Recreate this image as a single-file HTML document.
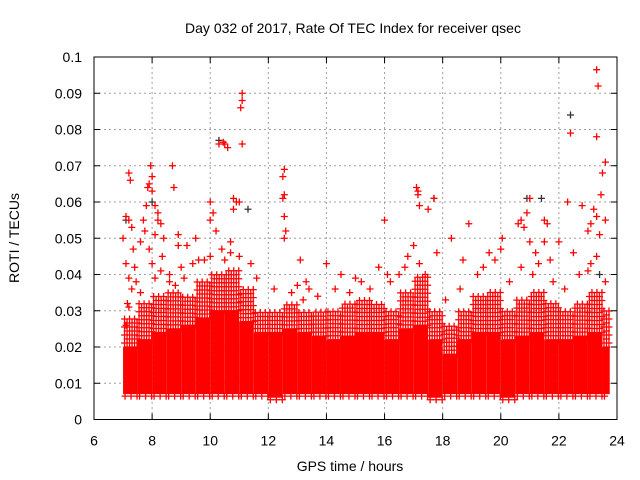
<!DOCTYPE html>
<html><head><meta charset="utf-8"><style>
body{margin:0;background:#fff}
svg{display:block;font-family:"Liberation Sans",sans-serif}
</style></head><body>
<svg id="chart" width="640" height="480" viewBox="0 0 640 480">
<text x="353" y="33" font-size="14" text-anchor="middle">Day 032 of 2017, Rate Of TEC Index for receiver qsec</text>
<text x="350" y="471" font-size="14" text-anchor="middle">GPS time / hours</text>
<text x="19" y="238" font-size="14" text-anchor="middle" transform="rotate(-90 19 238)">ROTI / TECUs</text>
<g id="grid"></g>
<g id="marks"></g>
<g id="axes"></g>
</svg>
<script>
const xTicks=[6,8,10,12,14,16,18,20,22,24];
const yTicks=[0,0.01,0.02,0.03,0.04,0.05,0.06,0.07,0.08,0.09,0.1];
const yTickLabels=["0","0.01","0.02","0.03","0.04","0.05","0.06","0.07","0.08","0.09","0.1"];
const binStart=[7.0,7.5,8.0,8.5,9.0,9.5,10.0,10.5,11.0,11.5,12.0,12.5,13.0,13.5,14.0,14.5,15.0,15.5,16.0,16.5,17.0,17.5,18.0,18.5,19.0,19.5,20.0,20.5,21.0,21.5,22.0,22.5,23.0,23.5];
const binLow=[0.007,0.007,0.007,0.007,0.007,0.007,0.007,0.007,0.007,0.007,0.006,0.007,0.007,0.007,0.007,0.007,0.007,0.007,0.007,0.007,0.007,0.006,0.007,0.007,0.007,0.007,0.006,0.007,0.007,0.007,0.007,0.007,0.007,0.007];
const binCore=[0.020,0.022,0.024,0.025,0.026,0.028,0.030,0.030,0.027,0.024,0.024,0.025,0.024,0.023,0.022,0.023,0.024,0.024,0.022,0.025,0.026,0.022,0.018,0.022,0.024,0.024,0.022,0.023,0.024,0.022,0.022,0.023,0.024,0.020];
const binHigh=[0.028,0.032,0.034,0.035,0.034,0.038,0.040,0.042,0.036,0.030,0.030,0.032,0.030,0.030,0.030,0.032,0.033,0.032,0.030,0.036,0.040,0.030,0.026,0.030,0.034,0.036,0.030,0.034,0.036,0.032,0.030,0.032,0.036,0.030];
const outX=[7.1,7.2,7.25,7.2,7.3,7.35,7.0,7.1,7.2,7.15,7.1,7.8,7.7,7.75,7.6,7.9,7.95,8.0,7.85,8.0,8.1,8.2,8.2,8.1,7.9,8.3,8.4,8.35,8.7,8.75,8.9,8.9,8.6,9.2,9.5,9.6,10.0,10.1,10.0,10.2,10.3,10.5,10.6,10.45,10.7,10.8,10.9,11.1,11.1,11.05,11.1,11.0,10.8,11.4,12.55,12.5,12.55,12.5,12.55,12.6,12.55,13.3,13.4,13.2,13.1,14.0,14.5,14.8,15.2,16.0,15.8,16.1,16.5,16.8,17.0,17.15,17.15,17.1,17.2,17.5,17.7,17.8,18.3,18.7,18.9,19.6,20.0,20.05,20.6,20.7,20.8,20.9,21.0,21.0,21.2,21.5,21.6,21.5,21.7,22.0,22.4,22.3,22.5,22.8,23.0,23.1,23.2,23.3,23.35,23.3,23.5,23.6,23.45,23.3,23.4,23.6,23.3,23.1,
7.4,7.45,7.3,7.2,7.6,8.0,8.1,8.3,8.6,8.8,9.0,9.1,9.4,9.8,10.0,10.4,10.5,10.7,11.0,11.6,12.2,12.8,13.0,13.7,14.3,15.0,15.5,16.2,16.7,17.2,17.4,18.1,18.6,19.2,19.4,19.8,20.3,20.7,21.1,21.3,21.8,22.2,22.7,23.0,23.6];
const outY=[0.056,0.068,0.066,0.055,0.053,0.047,0.050,0.043,0.039,0.032,0.026,0.059,0.055,0.052,0.049,0.065,0.070,0.067,0.064,0.063,0.059,0.057,0.055,0.051,0.047,0.054,0.050,0.045,0.070,0.064,0.051,0.048,0.038,0.048,0.050,0.044,0.060,0.057,0.055,0.052,0.076,0.076,0.075,0.0765,0.049,0.058,0.060,0.090,0.088,0.086,0.076,0.060,0.061,0.043,0.069,0.067,0.062,0.061,0.056,0.052,0.050,0.038,0.036,0.033,0.044,0.043,0.040,0.035,0.038,0.055,0.042,0.040,0.040,0.045,0.048,0.063,0.062,0.064,0.059,0.058,0.061,0.046,0.050,0.044,0.054,0.046,0.047,0.050,0.054,0.055,0.053,0.057,0.061,0.049,0.046,0.055,0.054,0.049,0.044,0.049,0.079,0.060,0.046,0.059,0.052,0.054,0.058,0.0965,0.092,0.078,0.068,0.071,0.062,0.056,0.051,0.055,0.045,0.043,
0.042,0.038,0.036,0.031,0.035,0.043,0.039,0.041,0.040,0.037,0.042,0.039,0.043,0.044,0.045,0.047,0.044,0.046,0.045,0.039,0.036,0.035,0.037,0.034,0.036,0.039,0.036,0.038,0.042,0.043,0.040,0.033,0.036,0.040,0.042,0.044,0.038,0.042,0.040,0.043,0.038,0.036,0.040,0.041,0.038];
const darkX=[7.1,8.0,10.3,11.3,17.7,21.4,22.4,20.9,23.4];
const darkY=[0.055,0.060,0.077,0.058,0.061,0.061,0.084,0.061,0.040];

const L=94,R=617,T=57,B=419.5;
const xs=v=>L+(v-6)/18*(R-L);
const ys=v=>B-v/0.1*(B-T);
const NS="http://www.w3.org/2000/svg";
function mk(tag,attrs,parent){const e=document.createElementNS(NS,tag);for(const k in attrs)e.setAttribute(k,attrs[k]);parent.appendChild(e);return e;}
const grid=document.getElementById('grid'),marks=document.getElementById('marks'),axes=document.getElementById('axes');
xTicks.forEach((t,i)=>{const x=xs(t);
 if(i>0&&i<xTicks.length-1){const g=mk('line',{x1:x,x2:x,y1:T,y2:B,stroke:'#a0a0a0','stroke-dasharray':'2,3'},grid);
 
 }
 mk('line',{x1:x,x2:x,y1:B,y2:B-6,stroke:'#000'},axes);mk('line',{x1:x,x2:x,y1:T,y2:T+6,stroke:'#000'},axes);
 const tx=mk('text',{x:x,y:B+26,'font-size':14,'text-anchor':'middle'},axes);tx.textContent=t;
 
 });
yTicks.forEach((t,i)=>{const y=ys(t);
 if(i>0&&i<yTicks.length-1){const g=mk('line',{x1:L,x2:R,y1:y,y2:y,stroke:'#a0a0a0','stroke-dasharray':'2,3'},grid);
 
 }
 mk('line',{x1:L,x2:L+6,y1:y,y2:y,stroke:'#000'},axes);mk('line',{x1:R,x2:R-6,y1:y,y2:y,stroke:'#000'},axes);
 const tx=mk('text',{x:L-12,y:y+5,'font-size':14,'text-anchor':'end'},axes);tx.textContent=yTickLabels[i];
 
 });
const frame=mk('rect',{x:L,y:T,width:R-L,height:B-T,fill:'none',stroke:'#000'},axes);


function plus(x,y,c,parent){return mk('path',{d:`M${x-3.5} ${y}h7M${x} ${y-3.5}v7`,stroke:c,'stroke-width':1.3,fill:'none'},parent);}
binStart.forEach((t,i)=>{
 const end=Math.min(t+0.5,23.75);
 const x0=xs(t),x1=xs(end);
 const r=mk('rect',{x:x0,y:ys(binCore[i]),width:x1-x0,height:ys(binLow[i])-ys(binCore[i]),fill:'#f00'},marks);
 
 
 let row=0;
 for(let yy=ys(binCore[i]);yy>ys(binHigh[i]);yy-=4,row++){
  for(let xx=x0+(row%2?1.5:4);xx<x1;xx+=5){const p=plus(xx,yy,'#f00',marks);
   
   }
 }
 for(let xx=x0+2;xx<x1;xx+=6){const p=plus(xx,ys(binLow[i])+2,'#f00',marks);
  
  }
});
darkX.forEach((v,i)=>{const p=plus(xs(v),ys(darkY[i]),'#333',marks);
 
 });
outX.forEach((v,i)=>{const p=plus(xs(v),ys(outY[i]),'#f00',marks);
 
 });
</script>
</body></html>
